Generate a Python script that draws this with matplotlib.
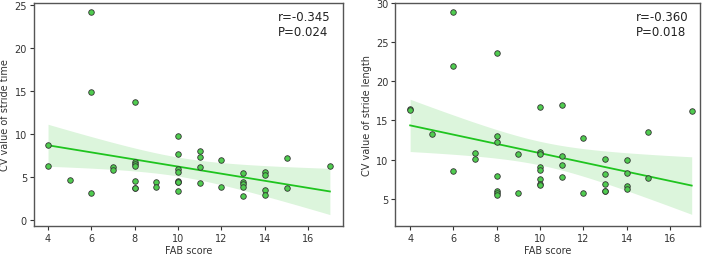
import numpy as np
import matplotlib
matplotlib.use("Agg")
import matplotlib.pyplot as plt

# FAB score (same subjects in both panels)
fab = [4, 4, 5, 6, 6, 6, 7, 7,
       8, 8, 8, 8, 8, 8, 8,
       9, 9,
       10, 10, 10, 10, 10, 10, 10, 10,
       11, 11, 11, 11,
       12, 12,
       13, 13, 13, 13, 13,
       14, 14, 14, 14,
       15, 15, 17]

cv_time = [8.73, 6.32, 4.62, 24.2, 14.94, 3.18, 6.13, 5.82,
           13.74, 6.79, 6.52, 6.25, 4.58, 3.76, 3.69,
           4.46, 3.88,
           9.82, 7.72, 5.94, 5.62, 4.58, 4.48, 4.39, 3.34,
           8.07, 7.33, 6.13, 4.31,
           7.02, 3.81,
           5.47, 4.39, 4.16, 3.88, 2.83,
           5.62, 5.24, 3.49, 2.95,
           7.22, 3.76, 6.29]

cv_length = [16.4, 16.35, 13.26, 28.8, 21.9, 8.54, 10.84, 10.03,
             23.6, 12.97, 12.28, 7.94, 5.95, 5.73, 5.47,
             10.67, 5.77,
             16.71, 11.0, 10.71, 9.09, 8.63, 7.48, 6.84, 6.75,
             16.97, 10.41, 9.3, 7.81,
             12.71, 5.77,
             10.07, 8.15, 6.84, 6.02, 5.95,
             9.94, 8.32, 6.66, 6.28,
             13.56, 7.64, 16.16]

labels = ["CV value of stride time", "CV value of stride length"]
stats = ["r=-0.345\nP=0.024", "r=-0.360\nP=0.018"]

point_color = "#4fcc4f"
line_color = "#1fc41f"
band_color = "#dcf5dc"
spine_color = "#555555"

fig = plt.figure(figsize=(7.07, 2.55), dpi=100)
ax1 = fig.add_axes([0.048, 0.111, 0.437, 0.873])
ax2 = fig.add_axes([0.559, 0.111, 0.431, 0.873])


def reg_panel(ax, x, y):
    x = np.asarray(x, float)
    y = np.asarray(y, float)
    n = len(x)
    b, a = np.polyfit(x, y, 1)
    xs = np.linspace(x.min(), x.max(), 100)
    fit = a + b * xs
    resid = y - (a + b * x)
    s = np.sqrt(np.sum(resid ** 2) / (n - 2))
    se = s * np.sqrt(1 / n + (xs - x.mean()) ** 2 / np.sum((x - x.mean()) ** 2))
    t = 2.0195
    ax.fill_between(xs, fit - t * se, fit + t * se, color=band_color, lw=0, zorder=1)
    ax.plot(xs, fit, color=line_color, lw=1.3, zorder=2)
    ax.scatter(x, y, s=16, color=point_color, edgecolors="#333333",
               linewidths=0.6, zorder=3)


for ax, y, lab, st in zip([ax1, ax2], [cv_time, cv_length], labels, stats):
    reg_panel(ax, fab, y)
    ax.set_xlabel("FAB score", fontsize=7, color="#333333", labelpad=2)
    ax.set_ylabel(lab, fontsize=7, color="#333333", labelpad=3)
    ax.set_xticks([4, 6, 8, 10, 12, 14, 16])
    ax.tick_params(labelsize=7, colors="#333333", length=3, width=0.8, pad=2)
    ax.tick_params(top=False, right=False)
    for sp in ax.spines.values():
        sp.set_color(spine_color)
        sp.set_linewidth(1.0)
    ax.text(0.79, 0.97, st, transform=ax.transAxes, fontsize=8.5,
            va="top", ha="left", color="#222222", linespacing=1.25)

ax1.set_xlim(3.35, 17.6)
ax1.set_ylim(-0.66, 25.26)
ax1.set_yticks([0, 5, 10, 15, 20, 25])
ax2.set_xlim(3.31, 17.38)
ax2.set_ylim(1.55, 30)
ax2.set_yticks([5, 10, 15, 20, 25, 30])

fig.savefig("out.png", dpi=100)
